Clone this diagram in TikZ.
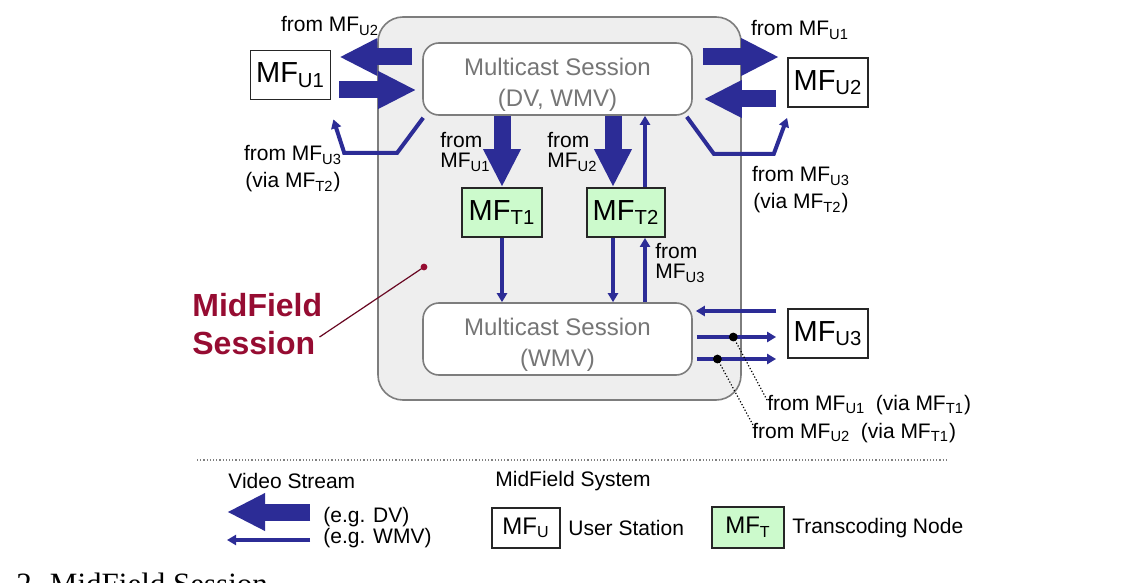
\documentclass[tikz,border=0pt]{standalone}
\usepackage{fontspec}
\setmainfont{Liberation Sans}
\newfontfamily\capfont{Liberation Serif}
\usetikzlibrary{arrows.meta,calc}

\definecolor{flowblue}{RGB}{44,44,150}
\definecolor{panelgray}{RGB}{238,238,238}
\definecolor{edgegray}{RGB}{125,125,125}
\definecolor{sessgray}{RGB}{118,118,118}
\definecolor{nodegreen}{RGB}{204,250,204}
\definecolor{mfred}{RGB}{150,12,50}

\tikzset{
  panelbox/.style={draw=edgegray, fill=panelgray, rounded corners=12.5pt, line width=0.8pt,
    minimum width=181.5pt, minimum height=191.5pt},
  sessbox/.style={draw=edgegray, fill=white, rounded corners=8pt, line width=0.8pt,
    minimum width=134.5pt, minimum height=36pt, align=center, text=sessgray,
    inner ysep=1pt, text height=30pt, font=\fontsize{12}{15.5}\selectfont},
  userbox/.style={draw=black!85, fill=white, line width=0.9pt, minimum width=40pt,
    minimum height=24.5pt, inner sep=1pt, font=\fontsize{14.5}{16}\selectfont},
  transbox/.style={userbox, fill=nodegreen},
  dvarrow/.style={flowblue, line width=8.5pt, -{Triangle[length=19pt,width=17.5pt]}},
  wmvarrow/.style={flowblue, line width=2pt, -{Triangle[length=4.5pt,width=5pt]}},
  lbl/.style={font=\fontsize{10.5}{13.5}\selectfont, inner sep=1pt},
  lbltight/.style={lbl, align=left, anchor=west, font=\fontsize{10.5}{10}\selectfont},
  leader/.style={densely dotted, line width=0.6pt},
}

\begin{document}
\begin{tikzpicture}[x=0.5pt, y=-0.5pt]
        \path[use as bounding box, fill=white] (0,0) rectangle (1145,583);

        % MidField session panel
        \node[panelbox] (panel) at (559.5,208.5) {};

        % Multicast sessions
        \node[sessbox] (sessup) at (557.5,79) {Multicast Session\\(DV, WMV)};
        \node[sessbox] (sesslow) at (557.5,339) {Multicast Session\\(WMV)};

        % User stations
        \node[userbox] (mfuone) at (290.5,75) {MF\textsubscript{U1}};
        \node[userbox] (mfutwo) at (828,82.5) {MF\textsubscript{U2}};
        \node[userbox] (mfuthree) at (828,333.5) {MF\textsubscript{U3}};

        % Transcoding nodes
        \node[transbox] (mftone) at (502,212.5) {MF\textsubscript{T1}};
        \node[transbox, minimum width=39pt] (mfttwo) at (626,212.5) {MF\textsubscript{T2}};

        % DV streams
        \draw[dvarrow] ($(sessup.west)+(-10,-22)$) -- ($(mfuone.east)+(8,-18)$);
        \draw[dvarrow] ($(mfuone.east)+(8,15)$) -- ($(sessup.west)+(-6,11)$);
        \draw[dvarrow] ($(sessup.east)+(10,-22)$) -- ($(mfutwo.west)+(-8,-25.5)$);
        \draw[dvarrow] ($(mfutwo.west)+(-11,16.5)$) -- ($(sessup.east)+(11,20)$);
        \draw[dvarrow] (mftone.north |- sessup.south) -- (mftone.north);
        \draw[dvarrow] ($(mfttwo.north |- sessup.south)+(-13,0)$) -- ($(mfttwo.north)+(-13,0)$);

        % WMV streams
        \draw[wmvarrow] (mftone.south) -- (mftone.south |- sesslow.north);
        \draw[wmvarrow] ($(mfttwo.south)+(-13,0)$) -- ($(mfttwo.south |- sesslow.north)+(-13,0)$);
        \draw[wmvarrow] ($(mfttwo.south |- sesslow.north)+(19,0)$) -- ($(mfttwo.south)+(19,0)$);
        \draw[wmvarrow] ($(mfttwo.north)+(19,0)$) -- ($(mfttwo.north |- sessup.south)+(19,0)$);
        \draw[wmvarrow] ($(sessup.south west)+(1,2)$) -- ++(-26,35) -- ++(-53,0)
            -- ($(mfuone.south east)+(2,19)$);
        \draw[wmvarrow] ($(sessup.south east)+(-6,1)$) -- ++(27,37) -- ++(60,0)
            -- ($(mfutwo.south west)+(0,10)$);
        \draw[wmvarrow] ($(mfuthree.west)+(-11,-22.5)$) -- ($(sesslow.east)+(3,-28)$);
        \draw[wmvarrow] ($(sesslow.east)+(4,-2)$) -- coordinate[pos=0.46] (dotone)
            ($(mfuthree.west)+(-11,3.5)$);
        \draw[wmvarrow] ($(sesslow.east)+(4,20)$) -- coordinate[pos=0.26] (dottwo)
            ($(mfuthree.west)+(-11,25.5)$);

        % Stream labels
        \node[lbl] (lblfromutwo) at (330,26) {from MF\textsubscript{U2}};
        \node[lbl] (lblfromuone) at (800,30) {from MF\textsubscript{U1}};
        \node[lbl, align=center] (lblviaone) at (293,169) {from MF\textsubscript{U3}\\(via MF\textsubscript{T2})};
        \node[lbl, align=center] (lblviatwo) at (801,190) {from MF\textsubscript{U3}\\(via MF\textsubscript{T2})};
        \node[lbltight] (lbldownone) at (438,152) {from\\MF\textsubscript{U1}};
        \node[lbltight] (lbldowntwo) at (545,152) {from\\MF\textsubscript{U2}};
        \node[lbltight] (lblupthree) at (653,263) {from\\MF\textsubscript{U3}};

        % Leaders to the MF_U3 streams
        \node[lbl, anchor=west] (lblviatone) at (765,405) {from MF\textsubscript{U1}\enskip(via MF\textsubscript{T1})};
        \node[lbl, anchor=west] (lblviattwo) at (750,433) {from MF\textsubscript{U2}\enskip(via MF\textsubscript{T1})};
        \draw[leader] (dotone) -- ($(lblviatone.west)+(2,-5)$);
        \draw[leader] (dottwo) -- ($(lblviattwo.west)+(3,-8)$);
        \fill (dotone) circle (2.2pt);
        \fill (dottwo) circle (2.2pt);

        % MidField session callout
        \node[anchor=west, align=left, text=mfred, inner sep=1pt,
            font=\bfseries\fontsize{16}{19}\selectfont] (mslabel) at (190,324) {MidField\\Session};
        \coordinate (msdot) at (424,267);
        \draw[mfred!70!black, line width=0.6pt] ($(mslabel.east)+(-5,13)$) -- (msdot);
        \fill[mfred] (msdot) circle (1.7pt);

        % Legend
        \draw[gray, densely dotted, line width=0.6pt] (197,460) -- (948,460);
        \node[lbl, anchor=west] (lgvideo) at (226,481) {Video Stream};
        \node[lbl, anchor=west] (lgdv) at (321,517) {(e.g. DV)};
        \node[lbl, anchor=west] (lgwmv) at (321,538) {(e.g. WMV)};
        \draw[dvarrow] ($(lgdv.west)+(-11,-5)$) -- ++(-83,0);
        \draw[wmvarrow] ($(lgwmv.west)+(-11,2)$) -- ++(-83,0);
        \node[lbl, anchor=west] (lgsystem) at (493,481) {MidField System};
        \node[userbox, minimum width=34pt, minimum height=20pt,
            font=\fontsize{12}{14}\selectfont] (lgmfu) at (526,528) {MF\textsubscript{U}};
        \node[lbl, anchor=west] (lguser) at (566,528) {User Station};
        \node[transbox, minimum width=36pt, minimum height=20.5pt,
            font=\fontsize{12}{14}\selectfont] (lgmft) at (748,527.5) {MF\textsubscript{T}};
        \node[lbl, anchor=west] (lgtrans) at (790,528) {Transcoding Node};

        % Caption
        \node[anchor=base west, inner sep=0, font=\capfont\fontsize{15.5}{18}\selectfont]
            (caption) at (16,594) {2. MidField Session};
\end{tikzpicture}
\end{document}
